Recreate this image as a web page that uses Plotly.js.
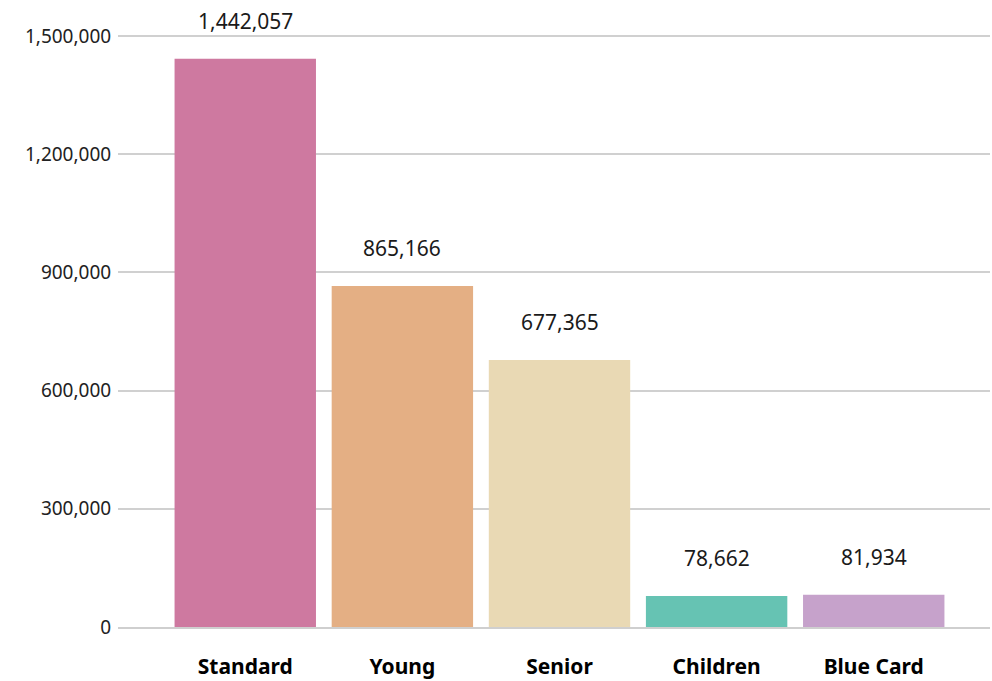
<!DOCTYPE html>
<html>
<head>
<meta charset="utf-8">
<script src="https://cdn.plot.ly/plotly-3.0.1.min.js"></script>
<style>html,body{margin:0;padding:0;background:#fff;}#chart{width:992px;height:681px;}</style>
</head>
<body>
<div id="chart"></div>
<script>
const categories = ["Standard", "Young", "Senior", "Children", "Blue Card"];
const values = [1442057, 865166, 677365, 78662, 81934];
const colors = ["#CE79A0", "#E4AF84", "#E9D9B4", "#66C3B3", "#C6A2CB"];
const tickVals = [0, 300000, 600000, 900000, 1200000, 1500000];
const tickText = ["0", "300,000", "600,000", "900,000", "1,200,000", "1,500,000"];

const fontFam = "'Noto Sans', 'Open Sans', sans-serif";

const trace = {
  type: "bar",
  x: categories,
  y: values,
  marker: { color: colors },
  hoverinfo: "x+y"
};

const annotations = categories.map((c, i) => ({
  x: c, y: values[i], xref: "x", yref: "y",
  text: values[i].toLocaleString("en-US"),
  showarrow: false, yanchor: "bottom", yshift: 22,
  font: { family: fontFam, size: 21, color: "#1a1a1a" }
}));

const layout = {
  width: 992, height: 681,
  margin: { l: 118, r: 2, t: 0, b: 54 },
  paper_bgcolor: "#fff", plot_bgcolor: "#fff",
  bargap: 0.1,
  showlegend: false,
  xaxis: {
    range: [-0.81, 4.74],
    tickfont: { family: fontFam, size: 21, color: "#000", weight: "bold" },
    ticks: "outside", ticklen: 20, tickcolor: "rgba(0,0,0,0)",
    showgrid: false, zeroline: false,
    showline: true, linecolor: "#cfcfcf", linewidth: 2
  },
  yaxis: {
    range: [0, 1591370],
    tickvals: tickVals, ticktext: tickText,
    tickfont: { family: fontFam, size: 19, color: "#222" },
    showgrid: true, gridcolor: "#d0d0d0", gridwidth: 2,
    zeroline: false, showline: false,
    ticks: "outside", ticklen: 2, tickcolor: "rgba(0,0,0,0)"
  },
  annotations: annotations
};

Plotly.newPlot("chart", [trace], layout, { displayModeBar: false, staticPlot: true });
</script>
</body>
</html>
